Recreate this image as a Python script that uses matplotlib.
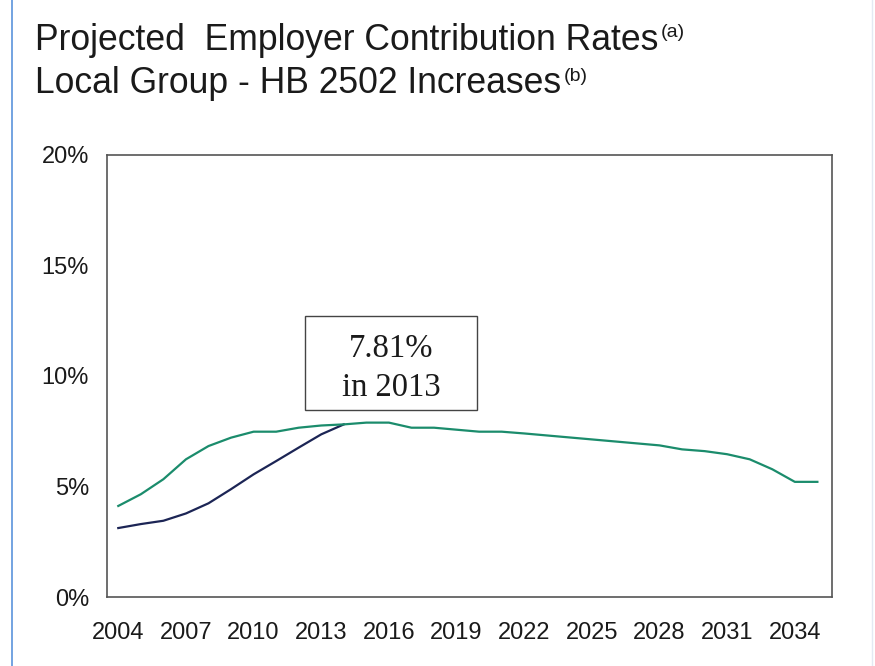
import matplotlib.pyplot as plt
from matplotlib.patches import Rectangle
from matplotlib.lines import Line2D
from matplotlib.ticker import FuncFormatter

# projected employer contribution rates, percent of payroll
years = list(range(2004, 2036))
hb2502_rates = [4.12, 4.65, 5.33, 6.23, 6.83, 7.21, 7.48, 7.48, 7.66, 7.76,
                7.81, 7.89, 7.89, 7.66, 7.66, 7.57, 7.48, 7.48, 7.40, 7.31,
                7.22, 7.13, 7.04, 6.95, 6.86, 6.68, 6.60, 6.46, 6.23, 5.78,
                5.21, 5.21]

phase_in_years = list(range(2004, 2015))
phase_in_rates = [3.12, 3.30, 3.45, 3.78, 4.24, 4.88, 5.55, 6.15, 6.76, 7.36,
                  7.81]

tick_years = list(range(2004, 2035, 3))
y_ticks = [0, 5, 10, 15, 20]

green = "#1b8c6c"
navy = "#1c2555"
sans = "Liberation Sans"

fig = plt.figure(figsize=(8.75, 6.66), dpi=100)
ax = fig.add_axes([0.1223, 0.1036, 0.8286, 0.6637])

ax.plot(years, hb2502_rates, color=green, lw=1.6, zorder=3)
ax.plot(phase_in_years, phase_in_rates, color=navy, lw=1.6, zorder=2)

ax.set_xlim(2003.5, 2035.65)
ax.set_ylim(0, 20)
ax.set_xticks(tick_years)
ax.set_yticks(y_ticks)
ax.yaxis.set_major_formatter(FuncFormatter(lambda v, _: f"{v:.0f}%"))
ax.tick_params(length=0, labelsize=17, colors="#1a1a1a")
ax.tick_params(axis="x", pad=18)
ax.tick_params(axis="y", pad=13)
for lbl in ax.get_xticklabels() + ax.get_yticklabels():
    lbl.set_fontfamily(sans)
for sp in ax.spines.values():
    sp.set_color("#555555")
    sp.set_linewidth(1.2)

# callout box
ax.add_patch(Rectangle((0.273, 0.423), 0.237, 0.213, transform=ax.transAxes,
                       facecolor="white", edgecolor="#444444", lw=1.0, zorder=4))
ax.text(0.392, 0.518, "7.81%\nin 2013", transform=ax.transAxes,
        ha="center", va="center", fontsize=23.5, family="Liberation Serif",
        color="#1a1a1a", linespacing=1.38, zorder=5)

# two-line title with footnote markers
t1 = fig.text(0.040, 0.925, "Projected  Employer Contribution Rates",
              fontsize=25.6, family=sans, color="#1a1a1a", va="baseline")
t2 = fig.text(0.040, 0.860, "Local Group - HB 2502 Increases",
              fontsize=25.6, family=sans, color="#1a1a1a", va="baseline")
fig.canvas.draw()
inv = fig.transFigure.inverted()
for t, mark in [(t1, "(a)"), (t2, "(b)")]:
    bb = t.get_window_extent()
    x_end = inv.transform((bb.x1, bb.y1))[0]
    fig.text(x_end + 0.003, t.get_position()[1] + 0.019, mark,
             fontsize=14, family=sans, color="#1a1a1a", va="baseline")

# page edge lines
fig.add_artist(Line2D([0.014, 0.014], [0, 1], transform=fig.transFigure,
                      color="#5b93dc", lw=1.2))
fig.add_artist(Line2D([0.997, 0.997], [0, 1], transform=fig.transFigure,
                      color="#e3e9f2", lw=1.0))

fig.savefig("out.png", dpi=100)
